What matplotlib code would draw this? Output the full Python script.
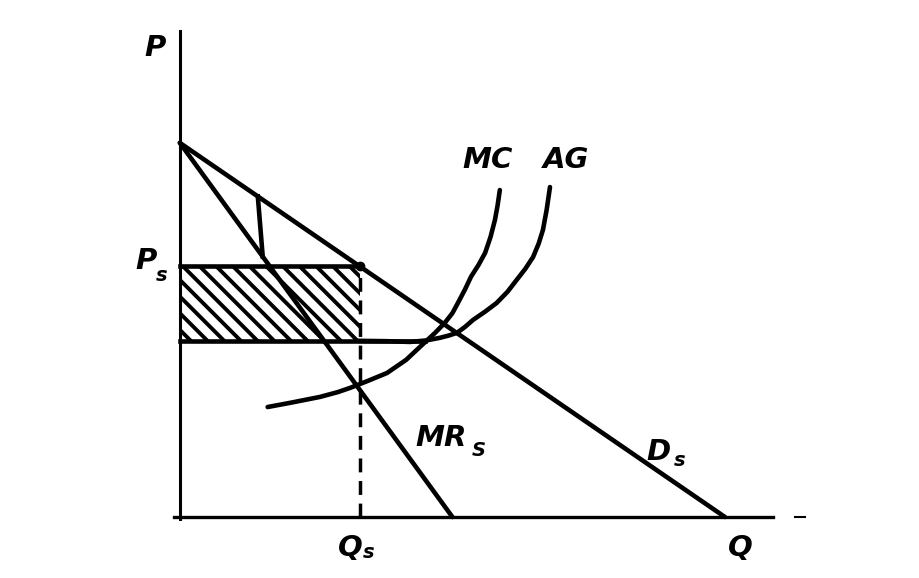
import matplotlib
matplotlib.use("Agg")
import matplotlib.pyplot as plt
import numpy as np

# demand and marginal revenue (straight lines)
demand_q = [0, 100]
demand_p = [100, 0]
mr_q = [0, 50]
mr_p = [100, 0]

# kink segment from demand down to MR
kink_q = [14.3, 15.2]
kink_p = [85.7, 69.6]

# cost curves
mc_q = [16.1, 20.5, 25.7, 29.0, 31.2, 34.5, 38.0, 41.5, 44.8, 46.8, 48.6,
        50.0, 51.0, 52.3, 53.4, 54.8, 56.0, 57.0, 57.8, 58.3, 58.7]
mc_p = [29.4, 30.6, 32.1, 33.4, 34.5, 36.4, 38.5, 42.0, 46.5, 49.2, 51.9,
        54.5, 57.2, 60.8, 64.2, 67.4, 70.6, 74.9, 79.4, 83.4, 87.4]
ac_q = [32.7, 38.0, 42.2, 45.2, 47.7, 49.3, 50.8, 52.3, 53.8, 56.0, 58.1,
        60.1, 61.8, 63.4, 64.8, 65.8, 66.6, 67.3, 67.9]
ac_p = [47.1, 47.0, 46.8, 47.2, 47.9, 48.5, 49.2, 50.8, 52.7, 54.9, 57.2,
        60.2, 63.4, 66.4, 69.5, 73.0, 76.7, 82.2, 88.2]

q_s = 33
p_s = 67
ac_min = 47

plt.rcParams["hatch.linewidth"] = 2.8

fig = plt.figure(figsize=(9.19, 5.78), dpi=100)
ax = fig.add_axes([0, 0, 1, 1])
ax.set_xlim(-33.0, 135.6)
ax.set_ylim(-16.3, 138.2)
ax.axis("off")

lw = 3.3
# axes
ax.plot([0, 0], [-0.5, 130], color="black", lw=2.2)
ax.plot([-1, 108.8], [0, 0], color="black", lw=2.4)
ax.plot([112.8, 114.7], [0, 0], color="black", lw=1.5)

# shaded profit rectangle
ax.fill_between([0, q_s], ac_min, p_s, facecolor="white", edgecolor="black",
                hatch="\\\\", lw=0)
ax.plot([0, q_s], [p_s, p_s], color="black", lw=lw)
ax.plot([0, 45], [ac_min, ac_min], color="black", lw=lw)
ax.plot([q_s, q_s], [0, p_s], color="black", lw=2.5, ls=(0, (4, 2.5)))

ax.plot(demand_q, demand_p, color="black", lw=lw, solid_capstyle="round")
ax.plot(mr_q, mr_p, color="black", lw=lw, solid_capstyle="round")
ax.plot(kink_q, kink_p, color="black", lw=lw)
ax.plot(mc_q, mc_p, color="black", lw=lw, solid_capstyle="round",
        solid_joinstyle="round")
ax.plot(ac_q, ac_p, color="black", lw=lw, solid_capstyle="round",
        solid_joinstyle="round")
ax.plot([q_s], [p_s], "o", color="black", ms=6)

font = dict(fontsize=21, fontweight="bold", style="italic", color="black",
            ha="center", va="center")
sub = dict(fontsize=14, fontweight="bold", style="italic", color="black",
           ha="center", va="center")
ax.text(-4.6, 125.4, "P", **font)
ax.text(-6.2, 68.5, "P", **font)
ax.text(-3.3, 64.5, "s", **sub)
ax.text(56.5, 95.5, "MC", **font)
ax.text(70.8, 95.5, "AG", **font)
ax.text(48.0, 21.0, "MR", **font)
ax.text(54.8, 17.8, "S", **sub)
ax.text(87.8, 17.5, "D", **font)
ax.text(91.6, 15.0, "s", **sub)
ax.text(31.3, -8.3, "Q", **font)
ax.text(34.6, -9.6, "s", **sub)
ax.text(102.8, -8.3, "Q", **font)

fig.savefig("out.png", dpi=100)
